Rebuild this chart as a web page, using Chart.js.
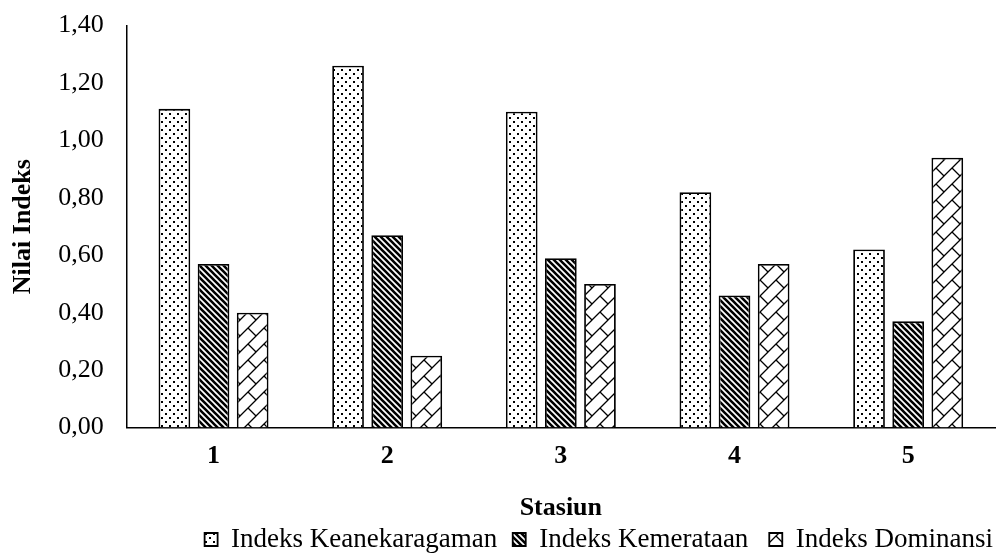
<!DOCTYPE html>
<html>
<head>
<meta charset="utf-8">
<script src="https://cdn.jsdelivr.net/npm/chart.js@4.4.1/dist/chart.umd.min.js"></script>
<style>
  html, body { margin: 0; padding: 0; background: #fff; }
  #wrap { width: 997px; height: 556px; }
</style>
</head>
<body>
<div id="wrap"><canvas id="chart" width="997" height="556"></canvas></div>
<script>
const stations = ["1", "2", "3", "4", "5"];
const keanekaragaman = [1.11, 1.26, 1.10, 0.82, 0.62];
const kemerataan = [0.57, 0.67, 0.59, 0.46, 0.37];
const dominansi = [0.40, 0.25, 0.50, 0.57, 0.94];
const seriesNames = ["Indeks Keanekaragaman", "Indeks Kemerataan", "Indeks Dominansi"];

// small tiles used as fills, like the excel pattern fills
function makeTile(size, draw) {
  const c = document.createElement("canvas");
  c.width = size;
  c.height = size;
  const g = c.getContext("2d");
  g.fillStyle = "#fff";
  g.fillRect(0, 0, size, size);
  g.fillStyle = "#000";
  g.strokeStyle = "#000";
  draw(g, size);
  return document.createElement("canvas").getContext("2d").createPattern(c, "repeat");
}

const dots = makeTile(8, (g) => {
  g.fillRect(1, 1, 2, 2);
  g.fillRect(5, 5, 2, 2);
});

const stripes = makeTile(6, (g, s) => {
  g.lineWidth = 2.6;
  g.beginPath();
  g.moveTo(-s, 0); g.lineTo(s * 2, s * 3);
  g.moveTo(-s * 2, 0); g.lineTo(s, s * 3);
  g.moveTo(0, -s); g.lineTo(s * 2, s);
  g.moveTo(-s, -s); g.lineTo(s * 2, s * 2);
  g.stroke();
});

const weave = makeTile(16, (g, s) => {
  g.lineWidth = 1.3;
  g.beginPath();
  g.moveTo(0, s); g.lineTo(s, 0);
  g.moveTo(-1, 1); g.lineTo(1, -1);
  g.moveTo(s - 1, s + 1); g.lineTo(s + 1, s - 1);
  g.moveTo(s / 2, s / 2); g.lineTo(s, s);
  g.stroke();
});

const fills = [dots, stripes, weave];
const values = [keanekaragaman, kemerataan, dominansi];
// extra space after each legend entry, as in the original
const legendGaps = ["\u2002", "\u2002\u2009", ""];

new Chart(document.getElementById("chart"), {
  type: "bar",
  data: {
    labels: stations,
    datasets: seriesNames.map((name, i) => ({
      label: name,
      data: values[i],
      backgroundColor: fills[i],
      borderColor: "#000",
      borderWidth: 1.8,
      categoryPercentage: 0.676,
      barPercentage: 0.81,
    })),
  },
  options: {
    responsive: false,
    animation: false,
    layout: { padding: { top: 0, right: 2, left: 2, bottom: -7 } },
    plugins: {
      tooltip: { enabled: false },
      legend: {
        position: "bottom",
        align: "end",
        labels: {
          color: "#000",
          font: { family: "Liberation Serif", size: 27 },
          boxWidth: 13,
          boxHeight: 13,
          padding: 2,
          generateLabels: (chart) => {
            const items = Chart.defaults.plugins.legend.labels.generateLabels(chart);
            items.forEach((item, i) => {
              item.text = item.text + legendGaps[i];
            });
            return items;
          },
        },
      },
    },
    scales: {
      x: {
        grid: { display: false, drawTicks: false },
        border: { display: true, color: "#000", width: 1.5 },
        ticks: {
          color: "#000",
          padding: 13,
          font: { family: "Liberation Serif", size: 26, weight: "bold" },
        },
        title: {
          display: true,
          text: "Stasiun",
          color: "#000",
          font: { family: "Liberation Serif", size: 26, weight: "bold" },
          padding: { top: 8, bottom: 0 },
        },
      },
      y: {
        min: 0,
        max: 1.4,
        grid: { display: false, drawTicks: false },
        border: { display: true, color: "#000", width: 1.5 },
        ticks: {
          stepSize: 0.2,
          color: "#000",
          padding: 10,
          font: { family: "Liberation Serif", size: 26 },
          // trailing en space keeps the labels further from the axis line
          callback: (v) => v.toFixed(2).replace(".", ",") + "\u2002",
        },
        title: {
          display: true,
          text: "Nilai Indeks",
          color: "#000",
          font: { family: "Liberation Serif", size: 26, weight: "bold" },
          padding: { top: 6, bottom: 9 },
        },
      },
    },
  },
});
</script>
</body>
</html>
